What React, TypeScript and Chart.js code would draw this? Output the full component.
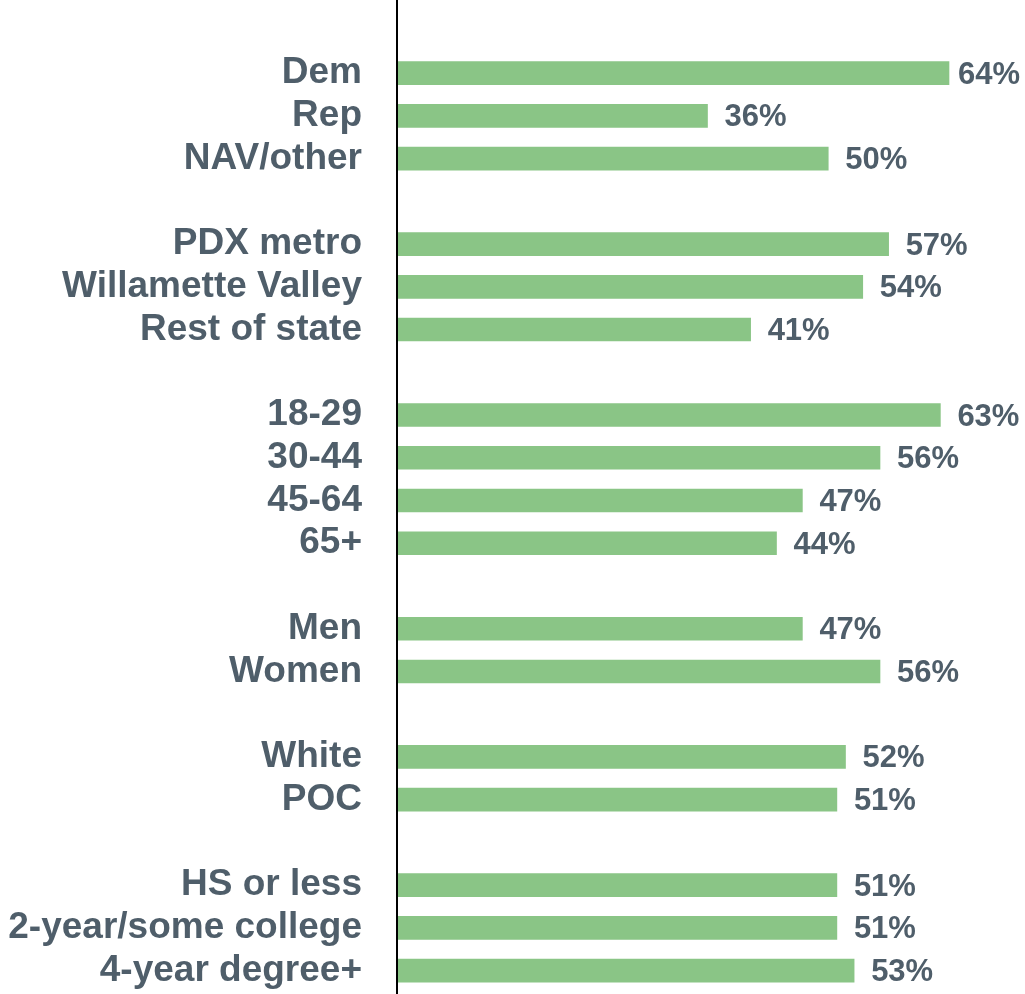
import React, { useEffect, useRef } from "react";
import { Chart, registerables } from "chart.js";

Chart.register(...registerables);

// Blank labels are visual gaps between groups
const categories: string[] = [
  "",
  "Dem", "Rep", "NAV/other",
  "",
  "PDX metro", "Willamette Valley", "Rest of state",
  "",
  "18-29", "30-44", "45-64", "65+",
  "",
  "Men", "Women",
  "",
  "White", "POC",
  "",
  "HS or less", "2-year/some college", "4-year degree+",
];

const values: (number | null)[] = [
  null,
  64, 36, 50,
  null,
  57, 54, 41,
  null,
  63, 56, 47, 44,
  null,
  47, 56,
  null,
  52, 51,
  null,
  51, 51, 53,
];

const valueLabelSuffix = "%";

const BAR_COLOR = "#8AC586";
const TEXT_COLOR = "#4F5E6A";
const FONT_FAMILY = "'Liberation Sans', Arial, Helvetica, sans-serif";

export default function App() {
  const canvasRef = useRef<HTMLCanvasElement | null>(null);

  useEffect(() => {
    const canvas = canvasRef.current;
    if (!canvas) return;

    const axisLinePlugin = {
      id: "axisLine",
      afterDatasetsDraw(chart: any) {
        const { ctx, chartArea, height } = chart;
        ctx.save();
        ctx.strokeStyle = "#000000";
        ctx.lineWidth = 2;
        ctx.beginPath();
        ctx.moveTo(chartArea.left, 0);
        ctx.lineTo(chartArea.left, height);
        ctx.stroke();
        ctx.restore();
      },
    };

    const valueLabelPlugin = {
      id: "valueLabels",
      afterDatasetsDraw(chart: any) {
        const { ctx, width } = chart;
        const meta = chart.getDatasetMeta(0);
        const data = chart.data.datasets[0].data;
        ctx.save();
        ctx.fillStyle = TEXT_COLOR;
        ctx.font = `bold 31px ${FONT_FAMILY}`;
        ctx.textAlign = "left";
        ctx.textBaseline = "middle";
        meta.data.forEach((el: any, i: number) => {
          const v = data[i];
          if (v === null || v === undefined) return;
          const text = `${v}${valueLabelSuffix}`;
          const w = ctx.measureText(text).width;
          const x = Math.min(el.x + 17, width - 5 - w);
          ctx.fillText(text, x, el.y + 2);
        });
        ctx.restore();
      },
    };

    const chart = new Chart(canvas, {
      type: "bar",
      data: {
        labels: categories,
        datasets: [
          {
            data: values as any,
            backgroundColor: BAR_COLOR,
            borderWidth: 0,
            barThickness: 23,
          },
        ],
      },
      options: {
        indexAxis: "y",
        responsive: false,
        animation: false,
        layout: { padding: { top: 9, bottom: 2, right: 7, left: 0 } },
        plugins: {
          legend: { display: false },
          tooltip: { enabled: false },
        },
        scales: {
          x: {
            display: false,
            min: 0,
            max: 72,
            grid: { display: false },
          },
          y: {
            grid: { display: false, drawTicks: false },
            border: { display: false },
            afterFit(scale: any) {
              scale.width = 397;
              scale.paddingTop = 0;
              scale.paddingBottom = 0;
            },
            ticks: {
              autoSkip: false,
              padding: 35,
              color: TEXT_COLOR,
              font: { family: FONT_FAMILY, size: 37, weight: "bold" },
            },
          },
        },
      },
      plugins: [axisLinePlugin, valueLabelPlugin],
    });

    return () => {
      chart.destroy();
    };
  }, []);

  return (
    <div style={{ position: "absolute", left: 0, top: 0, width: 1025, height: 994, background: "#ffffff" }}>
      <canvas ref={canvasRef} width={1025} height={994} style={{ display: "block" }} />
    </div>
  );
}
